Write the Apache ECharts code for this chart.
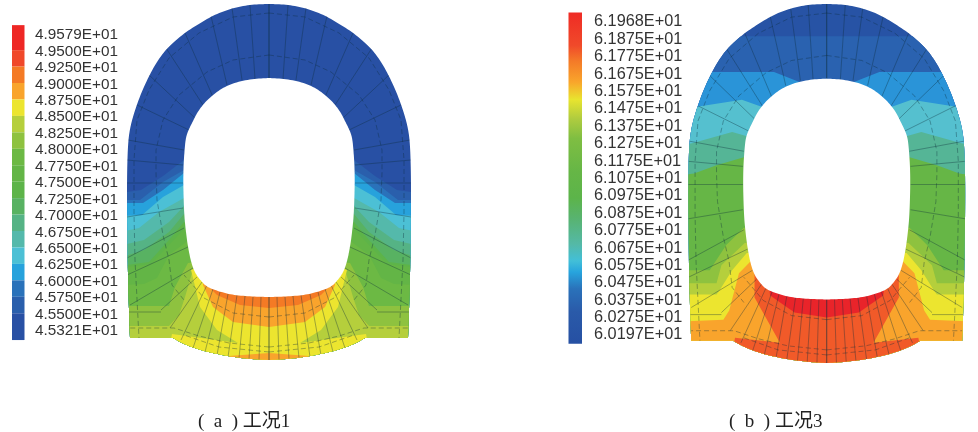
<!DOCTYPE html>
<html><head><meta charset="utf-8">
<style>html,body{margin:0;background:#fff}#c{width:978px;height:432px;filter:blur(0.45px)}</style>
<script src="https://cdn.jsdelivr.net/npm/echarts@6/dist/echarts.min.js"></script>
</head><body><div id="c"></div>
<script>
// Half sections: [offset from tunnel axis, depth]; mirrored about the axis when drawn.
const archEdge=[[0,4],[18,4.5],[36,8],[53,14],[69,23],[86,34],[102,48],[113,63],[122,80],[129,96],[135,113],[139,128],[141,143],[142,173],[142,213],[141,280],[139,338]];
const invertEdge=[[96,338],[85,344],[69,350],[52,354],[36,357],[18,359],[0,360]];
const innerEdge=[[0,78],[18,79],[36,83],[50,90],[62,100],[71,111],[77,123],[82,133],[84,143],[86,173],[85,213],[83,233],[81,247],[78,262],[74,273],[68,281],[62,287],[50,291.5],[36,295],[18,296.5],[0,297]];

const ticksA=['4.9579E+01','4.9500E+01','4.9250E+01','4.9000E+01','4.8750E+01','4.8500E+01','4.8250E+01','4.8000E+01','4.7750E+01','4.7500E+01','4.7250E+01','4.7000E+01','4.6750E+01','4.6500E+01','4.6250E+01','4.6000E+01','4.5750E+01','4.5500E+01','4.5321E+01'];
const ticksB=['6.1968E+01','6.1875E+01','6.1775E+01','6.1675E+01','6.1575E+01','6.1475E+01','6.1375E+01','6.1275E+01','6.1175E+01','6.1075E+01','6.0975E+01','6.0875E+01','6.0775E+01','6.0675E+01','6.0575E+01','6.0475E+01','6.0375E+01','6.0275E+01','6.0197E+01'];
const scaleColorsA=['#ee2725','#f0482a','#f47a25','#f9a42c','#ece52f','#b5cf3c','#8ec23f','#6cb944','#63b546','#5db449','#58b262','#55b385','#54b9ab','#4cc0d5','#27a2dc','#2a72ba','#2a5fac','#2850a4'];
const scaleEdgesA=[-0.6,0.92,1.92,2.92,3.92,4.92,5.92,6.92,7.92,8.92,9.92,10.92,11.92,12.92,13.92,14.92,15.92,16.92,18.55];
const scaleStopsB=[[0,'#ef2b25'],[0.1,'#f04a2a'],[0.147,'#f47a28'],[0.21,'#f9a52b'],[0.263,'#e8e42f'],[0.32,'#b0cc3f'],[0.38,'#7fbe42'],[0.48,'#66b646'],[0.56,'#5cb44a'],[0.62,'#58b36f'],[0.7,'#54b9a7'],[0.75,'#42bfd8'],[0.784,'#27a4dd'],[0.834,'#2a72ba'],[0.904,'#2a5aa9'],[1,'#2650a3']];

const bandsA=[
 ['#2850a4',[[0,0],[150,0],[150,400],[0,400]]],
 ['#2a5fac',[[0,150],[85,160],[106,176],[128,190],[150,193],[150,400],[0,400]]],
 ['#2a72ba',[[0,160],[85,170],[106,182],[129,200],[150,200],[150,400],[0,400]]],
 ['#27a2dc',[[0,165],[85,173],[106,190],[126,203],[150,203],[150,400],[0,400]]],
 ['#4cc0d5',[[0,175],[85,185],[106,197],[127,215],[150,216],[150,400],[0,400]]],
 ['#54b9ab',[[0,190],[85,198],[110,212],[130,228],[150,232],[150,400],[0,400]]],
 ['#55b385',[[0,198],[85,206],[100,222],[125,240],[150,246],[150,400],[0,400]]],
 ['#58b262',[[0,205],[85,214],[100,232],[125,250],[150,258],[150,400],[0,400]]],
 ['#5db449',[[0,212],[85,222],[100,240],[120,262],[150,266],[150,400],[0,400]]],
 ['#63b546',[[0,222],[84,228],[100,245],[118,264],[150,268],[150,400],[0,400]]],
 ['#6cb944',[[0,232],[80,240],[100,255],[112,278],[125,284],[150,285],[150,400],[0,400]]],
 ['#8ec23f',[[0,255],[81,263],[94,287],[100,306],[125,306],[150,306],[150,400],[0,400]]],
 ['#b5cf3c',[[0,262],[77,273],[84,297],[90,315],[100,326],[125,326],[150,326],[150,400],[0,400]]],
 ['#ece52f',[[0,240],[78,270],[76,278],[69,307],[52,330],[31,343],[97,334],[110,400],[0,400]]],
 ['#f9a42c',[[0,280],[66,280],[66,285],[56,307],[36,322],[0,327]]],
 ['#f47a25',[[0,280],[62,280],[62,285],[52,295],[29,305],[0,308]]],
 ['#f9a42c',[[0,353],[40,356],[50,370],[0,370]]]
];
const bandsB=[
 ['#2753a5',[[0,0],[150,0],[150,400],[0,400]]],
 ['#2a62b0',[[0,36],[150,36],[150,400],[0,400]]],
 ['#2a94d8',[[0,85],[26,82],[54,71.5],[150,71.5],[150,400],[0,400]]],
 ['#55c0cf',[[0,109],[64,107],[87,99],[133,106],[150,106],[150,400],[0,400]]],
 ['#55b596',[[0,144],[79,136],[97,131],[138,142],[150,144],[150,400],[0,400]]],
 ['#66b646',[[0,164],[85,156],[113,164],[136,172],[150,174],[150,400],[0,400]]],
 ['#8ec23f',[[0,223],[85,226],[103,243],[120,268],[150,268],[150,400],[0,400]]],
 ['#b5cf3c',[[0,238],[84,241],[108,263],[113,281],[150,281],[150,400],[0,400]]],
 ['#ece52f',[[0,248],[82,251],[97,268],[110,288],[113,292],[150,292],[150,400],[0,400]]],
 ['#f9a42c',[[0,248],[77,258],[90,271],[100,308],[106,317],[150,319],[150,400],[0,400]]],
 ['#f15a29',[[0,268],[74,268],[74,276],[74,295],[48,340],[94,335],[103,380],[0,380]]],
 ['#e9242a',[[0,278],[60,278],[58,293],[33,310],[0,315]]]
];

// Mesh spokes: [inner offset, inner depth, outer offset, outer depth]
const spokes=[[0,78,0,4],[14,79,19,5],[27,80,37,8],[42,85,58,16],[56,97,84,33],[66,105,103,48],[74,118,120,75],[80,130,132,105],[85,150,141,140],[86,165,142,160],[86,183,142,183],[86,208,142,217],[85,228,142,258],[81,247,142,275],[76,268,139,305],[72,277,108,310],[108,312,140,312],[67,282,99,328],[62,285,88,340],[56,289,76,348],[49,292,64,352],[41,294,52,355],[32,295,41,357],[24,296,30,358],[16,297,20,359],[8,297,10,360],[0,297,0,360]];
// Mesh rings run round the section, shown dashed.
const rings=[
 [[0,55],[36,60],[62,72],[90,95],[106,120],[113,150],[113,173],[112,200],[106,235],[100,260],[97,285],[85,300]],
 [[0,13],[36,17],[70,33],[100,58],[120,90],[132,120],[135,160],[135,213],[134,260],[130,338]],
 [[0,317],[36,313],[65,298],[85,275]],
 [[0,347],[40,343],[70,336],[95,328],[139,328]],
 [[0,352],[50,347],[85,335]]
];

// Corner rounding of an open outline, keeping its two end points.
function round(path,n){
  let p=path;
  for(let k=0;k<n;k++){
    const o=[p[0]];
    for(let i=0;i<p.length-1;i++){
      const a=p[i],b=p[i+1];
      o.push([a[0]*.75+b[0]*.25,a[1]*.75+b[1]*.25],[a[0]*.25+b[0]*.75,a[1]*.25+b[1]*.75]);
    }
    o.push(p[p.length-1]);p=o;
  }
  return p;
}
const mirror=h=>h.concat(h.slice().reverse().map(p=>[-p[0],p[1]]));
const outerFull=mirror(round(archEdge,3).concat(round(invertEdge,3)));
const innerFull=mirror(round(innerEdge,3));

function bandSeries(bands,gi){
  return {type:'custom',xAxisIndex:gi,yAxisIndex:gi,silent:true,clip:false,animation:false,z:2,
    data:bands.map((b,i)=>[i]),
    renderItem(p,api){
      const pts=mirror(bands[p.dataIndex][1]).map(q=>api.coord(q));
      return {type:'polygon',shape:{points:pts},style:{fill:bands[p.dataIndex][0],stroke:null},
        clipPath:{type:'polygon',shape:{points:outerFull.map(q=>api.coord(q))}}};
    }};
}
function meshSeries(gi){
  const lines=[];
  spokes.forEach(s=>{lines.push({d:[[s[0],s[1]],[s[2],s[3]]],dash:false});lines.push({d:[[-s[0],s[1]],[-s[2],s[3]]],dash:false});});
  rings.forEach(r=>{lines.push({d:r,dash:true});lines.push({d:r.map(p=>[-p[0],p[1]]),dash:true});});
  return {type:'custom',xAxisIndex:gi,yAxisIndex:gi,silent:true,clip:false,animation:false,z:3,
    data:lines.map((l,i)=>[i]),
    renderItem(p,api){
      const l=lines[p.dataIndex];
      return {type:'polyline',shape:{points:l.d.map(q=>api.coord(q))},
        style:{stroke:'rgba(15,45,60,0.45)',lineWidth:0.8,fill:null,lineDash:l.dash?[5,3]:null},
        clipPath:{type:'polygon',shape:{points:outerFull.map(q=>api.coord(q))}}};
    }};
}
function holeSeries(gi){
  return {type:'custom',xAxisIndex:gi,yAxisIndex:gi,silent:true,clip:false,animation:false,z:4,
    data:[[0]],
    renderItem(p,api){return {type:'polygon',shape:{points:innerFull.map(q=>api.coord(q))},style:{fill:'#fff',stroke:null}};}};
}
const shapeX=l=>({gridIndex:l,type:'value',min:-150,max:150,show:false});
const shapeY=l=>({gridIndex:l,type:'value',min:4,max:360,inverse:true,show:false});
const scaleAxis=(l,ticks,size,margin)=>({gridIndex:l,type:'value',inverse:true,min:0,max:18,interval:1,position:'right',
  splitLine:{show:false},axisLine:{show:false},axisTick:{show:false},
  axisLabel:{margin,fontFamily:'Liberation Sans',fontSize:size,color:'#333',formatter:v=>ticks[v]}});
const captionStyle={fontFamily:'"Liberation Serif","Noto Sans CJK SC"',fontWeight:'normal',fontSize:19,color:'#222'};

const option={
  backgroundColor:'#fff',animation:false,
  title:[
    {text:'(  a  ) 工况1',left:193,top:408,textStyle:captionStyle},
    {text:'(  b  ) 工况3',left:724,top:408,textStyle:captionStyle}
  ],
  grid:[
    {left:119,top:4,width:300,height:356},
    {left:680.45,top:4,width:292.5,height:359},
    {left:12,top:35,width:12.5,height:296},
    {left:568.5,top:22,width:13.5,height:313}
  ],
  xAxis:[shapeX(0),shapeX(1),
    {gridIndex:2,type:'value',min:0,max:1,show:false},
    {gridIndex:3,type:'value',min:0,max:1,show:false}],
  yAxis:[shapeY(0),shapeY(1),scaleAxis(2,ticksA,15.3,10.5),scaleAxis(3,ticksB,16.3,12)],
  series:[
    bandSeries(bandsA,0),meshSeries(0),holeSeries(0),
    bandSeries(bandsB,1),meshSeries(1),holeSeries(1),
    {type:'custom',xAxisIndex:2,yAxisIndex:2,silent:true,clip:false,animation:false,
     data:scaleColorsA.map((c,i)=>[i]),
     renderItem(p,api){
       const i=p.dataIndex,a=api.coord([0,scaleEdgesA[i]]),b=api.coord([1,scaleEdgesA[i+1]]);
       return {type:'rect',shape:{x:a[0],y:a[1],width:b[0]-a[0],height:b[1]-a[1]},style:{fill:scaleColorsA[i]}};
     }},
    {type:'custom',xAxisIndex:3,yAxisIndex:3,silent:true,clip:false,animation:false,
     data:[[0]],
     renderItem(p,api){
       const a=api.coord([0,-0.55]),b=api.coord([1,18.5]);
       return {type:'rect',shape:{x:a[0],y:a[1],width:b[0]-a[0],height:b[1]-a[1]},
         style:{fill:{type:'linear',x:0,y:0,x2:0,y2:1,colorStops:scaleStopsB.map(s=>({offset:s[0],color:s[1]}))}}};
     }}
  ]
};
echarts.init(document.getElementById('c')).setOption(option);
</script></body></html>
